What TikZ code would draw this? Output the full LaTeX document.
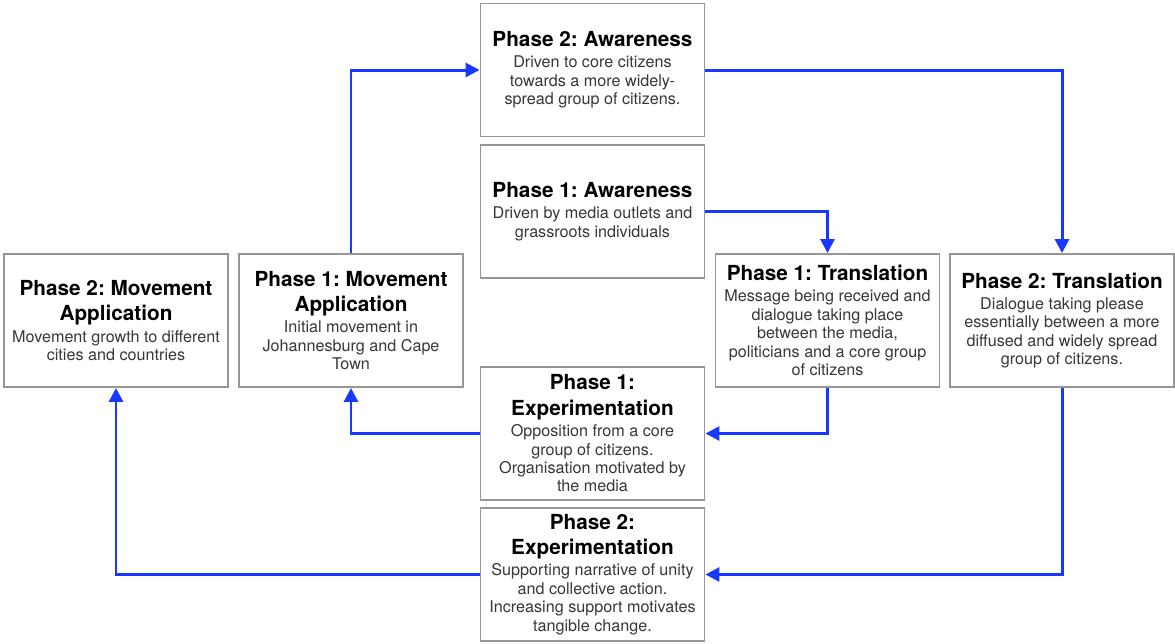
\documentclass[tikz,border=0pt]{standalone}
\usepackage{fontspec}
\setmainfont{TeX Gyre Heros}
\usetikzlibrary{arrows.meta}

\definecolor{flowblue}{RGB}{24,56,255}
\definecolor{boxgray}{RGB}{150,150,150}
\definecolor{bodygray}{RGB}{55,55,55}

\newcommand{\ttl}[1]{{\color{black}\bfseries\fontsize{11.8}{14}\selectfont #1}}

\tikzset{
  phase/.style={draw=boxgray, line width=1.1pt, fill=white,
    minimum width=4.48cm, minimum height=2.66cm, inner sep=2pt,
    align=center, text=bodygray, font=\fontsize{9.2}{10.5}\selectfont},
  flow/.style={draw=flowblue, line width=1.7pt,
    -{Triangle[length=0.28cm, width=0.28cm]}}
}

\frenchspacing
\begin{document}
\begin{tikzpicture}
\useasboundingbox (0,0) rectangle (23.5,-12.86);

% top row
\node[phase] (aw2) at (11.85,-1.40) {\ttl{Phase 2: Awareness}\\[1.5pt]
  Driven to core citizens\\ towards a more widely-\\ spread group of citizens.};
\node[phase] (aw1) at (11.85,-4.23) {\ttl{Phase 1: Awareness}\\[1.5pt]
  Driven by media outlets and\\ grassroots individuals};

% middle row
\node[phase] (mv2) at (2.32,-6.41) {\ttl{Phase 2: Movement}\\[4pt] \ttl{Application}\\[1.5pt]
  Movement growth to different\\ cities and countries};
\node[phase] (mv1) at (7.02,-6.41) {\ttl{Phase 1: Movement}\\[4pt] \ttl{Application}\\[1.5pt]
  Initial movement in\\ Johannesburg and Cape\\ Town};
\node[phase] (tr1) at (16.55,-6.41) {\ttl{Phase 1: Translation}\\[1.5pt]
  Message being received and\\ dialogue taking place\\ between the media,\\
  politicians and a core group\\ of citizens};
\node[phase] (tr2) at (21.24,-6.41) {\ttl{Phase 2: Translation}\\[1.5pt]
  Dialogue taking please\\ essentially between a more\\ diffused and widely spread\\
  group of citizens.};

% bottom
\node[phase] (ex1) at (11.85,-8.67) {\ttl{Phase 1:}\\[4pt] \ttl{Experimentation}\\[1.5pt]
  Opposition from a core\\ group of citizens.\\ Organisation motivated by\\ the media};
\node[phase] (ex2) at (11.85,-11.49) {\ttl{Phase 2:}\\[4pt] \ttl{Experimentation}\\[1.5pt]
  Supporting narrative of unity\\ and collective action.\\ Increasing support motivates\\
  tangible change.};

% connectors
\draw[flow] (mv1.north) |- (aw2.west);
\draw[flow] (aw2.east) -| (tr2.north);
\draw[flow] (aw1.east) -| (tr1.north);
\draw[flow] (tr1.south) |- (ex1.east);
\draw[flow] (ex1.west) -| (mv1.south);
\draw[flow] (tr2.south) |- (ex2.east);
\draw[flow] (ex2.west) -| (mv2.south);

\end{tikzpicture}
\end{document}
